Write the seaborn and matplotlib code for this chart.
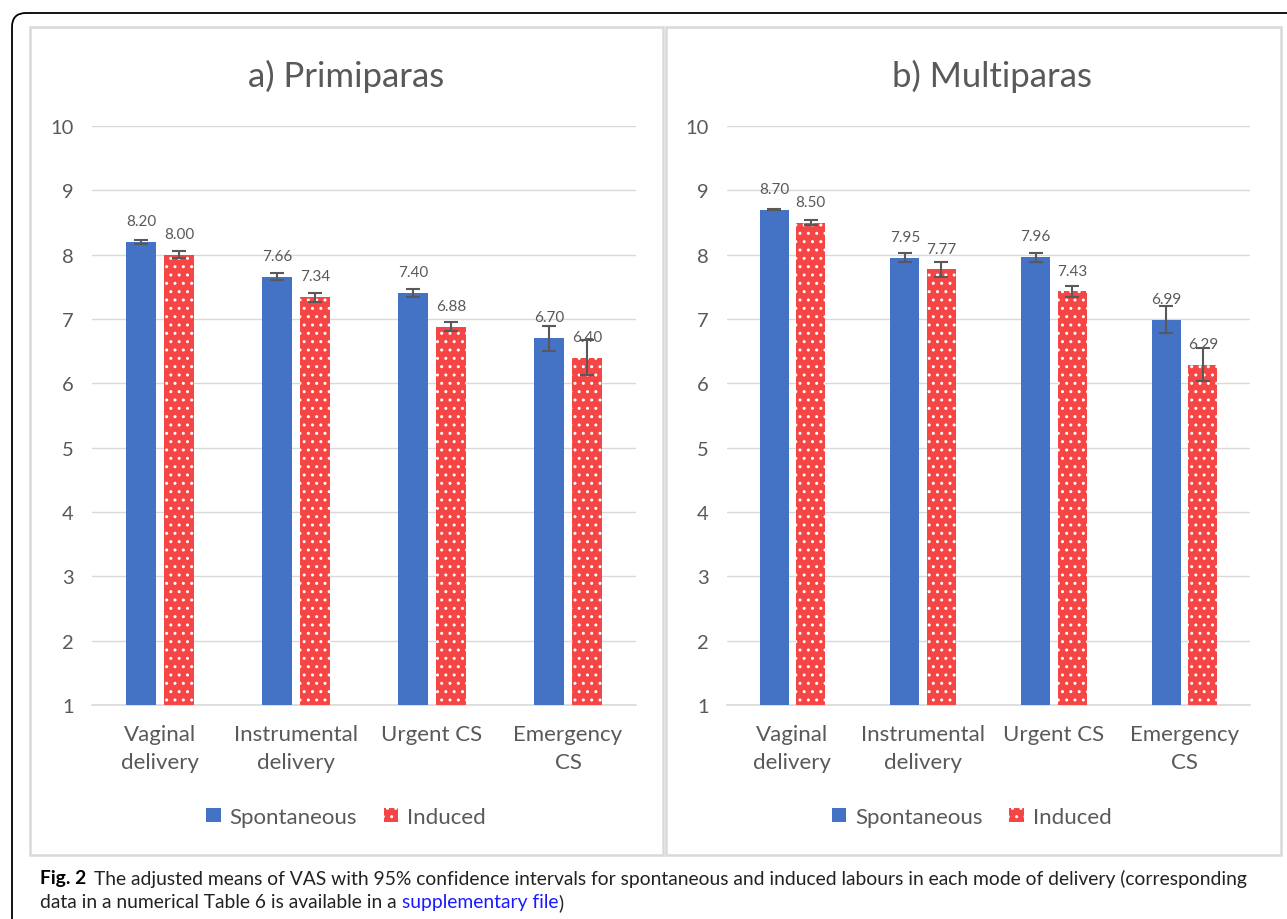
import numpy as np
import pandas as pd
import matplotlib
matplotlib.use("Agg")
import matplotlib.pyplot as plt
import seaborn as sns
from matplotlib.patches import Patch, Rectangle, FancyBboxPatch

# ── Data ──────────────────────────────────────────────────────────────────────
categories = ["Vaginal\ndelivery", "Instrumental\ndelivery", "Urgent CS", "Emergency\nCS"]
labours = ["Spontaneous", "Induced"]

prim_spont = [8.20, 7.66, 7.40, 6.70]
prim_ind = [8.00, 7.34, 6.88, 6.40]
prim_spont_ci = [0.03, 0.05, 0.06, 0.19]
prim_ind_ci = [0.05, 0.07, 0.07, 0.27]

multi_spont = [8.70, 7.95, 7.96, 6.99]
multi_ind = [8.50, 7.77, 7.43, 6.29]
multi_spont_ci = [0.01, 0.07, 0.07, 0.21]
multi_ind_ci = [0.04, 0.11, 0.09, 0.26]

panel_titles = ["a) Primiparas", "b) Multiparas"]
yticks = [1, 2, 3, 4, 5, 6, 7, 8, 9, 10]

BLUE = "#4472C4"
RED = "#F54545"
TXT = "#595959"
GRID = "#d9d9d9"

sns.set_style("white")
plt.rcParams["font.family"] = ["Lato", "DejaVu Sans"]


def make_df(spont, ind):
    return pd.DataFrame({
        "mode": categories * 2,
        "vas": list(spont) + list(ind),
        "labour": [labours[0]] * 4 + [labours[1]] * 4,
    })


def draw_panel(ax, spont, ind, spont_ci, ind_ci, title, title_x, legend_x):
    df = make_df(spont, ind)
    sns.barplot(data=df, x="mode", y="vas", hue="labour", hue_order=labours,
                palette=[BLUE, RED], saturation=1, width=0.56, gap=0.21,
                errorbar=None, legend=False, ax=ax, zorder=3)
    # dotted pattern on induced bars
    for p in ax.containers[1]:
        p.set_hatch("..")
        p.set_edgecolor("white")
        p.set_linewidth(0)
    for p in ax.containers[0]:
        p.set_linewidth(0)

    for cont, vals, cis in zip(ax.containers, [spont, ind], [spont_ci, ind_ci]):
        for bar, v, ci in zip(cont, vals, cis):
            xc = bar.get_x() + bar.get_width() / 2
            ax.errorbar(xc, v, yerr=ci, fmt="none", ecolor=TXT, elinewidth=1.5,
                        capsize=5, capthick=1.5, zorder=5)
            ax.annotate(f"{v:.2f}", (xc, v), xytext=(0, 15), textcoords="offset points",
                        ha="center", va="center", fontsize=11, color=TXT, zorder=6)

    ax.set_ylim(1, 10)
    ax.set_xlim(-0.5, 3.5)
    ax.set_yticks(yticks)
    ax.yaxis.grid(True, color=GRID, lw=1, zorder=0)
    ax.set_axisbelow(True)
    for s in ["top", "right", "left"]:
        ax.spines[s].set_visible(False)
    ax.spines["bottom"].set_color(GRID)
    ax.spines["bottom"].set_linewidth(1.2)
    ax.tick_params(axis="y", length=0, pad=13, labelsize=14.5, labelcolor=TXT)
    ax.tick_params(axis="x", length=0, pad=14, labelsize=16, labelcolor=TXT)
    for lab in ax.get_xticklabels():
        lab.set_linespacing(1.5)
    ax.set_xlabel("")
    ax.set_ylabel("")
    ax.set_title(title, fontsize=25, color=TXT, pad=29, x=title_x)

    handles = [Patch(facecolor=BLUE, edgecolor="none"),
               Patch(facecolor=RED, edgecolor="white", hatch="..", linewidth=0)]
    ax.legend(handles, labours, loc="center", bbox_to_anchor=(legend_x, -0.193),
              ncol=2, frameon=False, fontsize=16, labelcolor=TXT,
              handlelength=0.65, handleheight=0.65, handletextpad=0.4, columnspacing=1.2)


fig = plt.figure(figsize=(12.87, 9.2), dpi=100)
W, H = 1287, 920

# outer rounded frame
fig.patches.append(FancyBboxPatch((12, -60), 1400, 966, boxstyle="round,pad=0,rounding_size=14",
                                  transform=None, facecolor="none", edgecolor="black",
                                  linewidth=1.3, zorder=0))
# panel boxes
for x0, x1 in [(30, 663), (666, 1281)]:
    fig.patches.append(Rectangle((x0 / W, 1 - 856 / H), (x1 - x0) / W, (856 - 28) / H,
                                 transform=fig.transFigure, facecolor="none",
                                 edgecolor=GRID, linewidth=1.8, zorder=0))

ax1 = fig.add_axes([92 / W, 1 - 706 / H, (636 - 92) / W, 579 / H])
ax2 = fig.add_axes([727 / W, 1 - 706 / H, (1250 - 727) / W, 579 / H])

draw_panel(ax1, prim_spont, prim_ind, prim_spont_ci, prim_ind_ci, panel_titles[0], 0.467, 0.467)
draw_panel(ax2, multi_spont, multi_ind, multi_spont_ci, multi_ind_ci, panel_titles[1], 0.507, 0.468)

# ── Caption ───────────────────────────────────────────────────────────────────
renderer = fig.canvas.get_renderer()


def chain(parts, x, y, size=13.9):
    for txt, weight, color in parts:
        t = fig.text(x / W, 1 - y / H, txt, fontsize=size, fontweight=weight, color=color,
                     ha="left", va="center", family=["Lato", "DejaVu Sans"])
        x = t.get_window_extent(renderer).x1 + (8 if weight == "bold" else 0)


chain([("Fig. 2", "bold", "black"),
       ("The adjusted means of VAS with 95% confidence intervals for spontaneous and induced "
        "labours in each mode of delivery (corresponding", "normal", "#222222")], 40, 879)
chain([("data in a numerical Table 6 is available in a ", "normal", "#222222"),
       ("supplementary file", "normal", "#1a1aff"),
       (")", "normal", "#222222")], 40, 903)

fig.savefig("out.png", dpi=100)
